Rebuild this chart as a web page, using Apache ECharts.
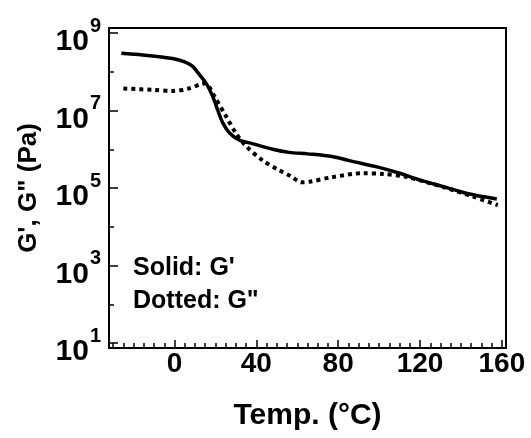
<!DOCTYPE html>
<html>
<head>
<meta charset="utf-8">
<script src="https://cdn.jsdelivr.net/npm/echarts@6/dist/echarts.min.js"></script>
<style>
    html, body { margin: 0; padding: 0; background: #fff; }
    #chart { width: 531px; height: 438px; }
</style>
</head>
<body>
<div id="chart"></div>
<script>
    // 温度 (°C) 与 G' 数据
    var gPrimeTemp = [-26, -12, -1, 5, 9, 12, 15.5, 18.7, 21.2, 23.6, 27, 32, 38, 48, 56, 65, 77, 86, 99, 110, 120, 131, 143, 157.5];
    var gPrimeVal = [3.0e8, 2.6e8, 2.2e8, 1.8e8, 1.35e8, 8.7e7, 5.0e7, 2.3e7, 1.0e7, 4.8e6, 2.6e6, 1.7e6, 1.4e6, 1.0e6, 8.3e5, 7.6e5, 6.5e5, 5.0e5, 3.5e5, 2.4e5, 1.6e5, 1.1e5, 7.2e4, 5.2e4];

    // G'' 数据
    var gDoubleTemp = [-25, -10, -1, 7, 13, 15, 17, 19.6, 25.3, 30, 35, 43, 51, 57, 62, 66, 77, 92, 102, 113, 131, 146, 158];
    var gDoubleVal = [3.7e7, 3.4e7, 3.2e7, 3.7e7, 4.8e7, 5.0e7, 4.0e7, 2.3e7, 6.9e6, 2.6e6, 1.2e6, 5.2e5, 2.9e5, 2.0e5, 1.4e5, 1.45e5, 1.9e5, 2.4e5, 2.3e5, 1.95e5, 1.07e5, 6.0e4, 3.6e4];

    // 刻度
    var xMajorTicks = [0, 40, 80, 120, 160];
    var xMinorTicks = [-30, -25, -20, -15, -10, -5, 0, 5, 10, 15, 20, 25, 30, 35, 40, 45, 50, 55, 60, 65, 70, 75, 80, 85,
        90, 95, 100, 105, 110, 115, 120, 125, 130, 135, 140, 145, 150, 155, 160];

    var FONT = "'Liberation Sans', Arial, sans-serif";

    function pairs(xs, ys) {
        var out = [];
        for (var i = 0; i < xs.length; i++) {
            out.push([xs[i], ys[i]]);
        }
        return out;
    }

    var frameBox = {left: 109, right: 25, top: 28, bottom: 90};

    var option = {
        backgroundColor: '#fff',
        animation: false,
        grid: [
            // 外框
            {left: frameBox.left, right: frameBox.right, top: frameBox.top, bottom: frameBox.bottom,
                show: true, borderColor: '#000', borderWidth: 2},
            // 绘图区 (10^1 .. 10^9)
            {left: 109, right: 25, top: 33, bottom: 95},
            // 次刻度 (x)
            {left: frameBox.left, right: frameBox.right, top: frameBox.top, bottom: frameBox.bottom}
        ],
        xAxis: [
            {
                gridIndex: 0, type: 'value', min: -32, max: 162, position: 'bottom',
                axisLine: {show: false, onZero: false},
                splitLine: {show: false},
                axisTick: {inside: true, length: 8, customValues: xMajorTicks, lineStyle: {color: '#000', width: 1.5}},
                axisLabel: {
                    customValues: xMajorTicks, margin: 2, color: '#000',
                    fontFamily: FONT, fontWeight: 'bold', fontSize: 28
                },
                name: 'Temp. (°C)', nameLocation: 'middle', nameGap: 53,
                nameTextStyle: {color: '#000', fontFamily: FONT, fontWeight: 'bold', fontSize: 30}
            },
            {
                gridIndex: 2, type: 'value', min: -32, max: 162, position: 'bottom',
                axisLine: {show: false, onZero: false},
                splitLine: {show: false},
                axisTick: {inside: true, length: 5, customValues: xMinorTicks, lineStyle: {color: '#000', width: 1.5}},
                axisLabel: {customValues: xMinorTicks, formatter: function () { return ''; }}
            },
            {
                gridIndex: 1, type: 'value', min: -32, max: 162, show: false,
                axisLine: {onZero: false}
            }
        ],
        yAxis: [
            {gridIndex: 0, type: 'value', min: 0, max: 1, show: false, axisLine: {onZero: false}},
            {
                gridIndex: 1, type: 'log', logBase: 10, min: 10, max: 1e9, interval: 2, position: 'left',
                axisLine: {show: false, onZero: false},
                splitLine: {show: false},
                axisTick: {inside: true, length: 9, lineStyle: {color: '#000', width: 1.5}},
                axisLabel: {
                    margin: 8, color: '#000',
                    formatter: function (v) {
                        return '{b|10}{s|' + Math.round(Math.log(v) / Math.LN10) + '}';
                    },
                    rich: {
                        b: {fontFamily: FONT, fontWeight: 'bold', fontSize: 30, color: '#000', verticalAlign: 'bottom'},
                        s: {fontFamily: FONT, fontWeight: 'bold', fontSize: 20, color: '#000', verticalAlign: 'bottom', padding: [7, 0, 21, 1]}
                    }
                },
                name: 'G\', G" (Pa)', nameLocation: 'middle', nameGap: 67, nameRotate: 90,
                nameTextStyle: {color: '#000', fontFamily: FONT, fontWeight: 'bold', fontSize: 26}
            },
            {
                gridIndex: 1, type: 'log', logBase: 10, min: 10, max: 1e9, interval: 1, position: 'left',
                axisLine: {show: false, onZero: false},
                splitLine: {show: false},
                axisTick: {inside: true, length: 5, lineStyle: {color: '#000', width: 1.5}},
                axisLabel: {show: false}
            },
            {gridIndex: 2, type: 'value', min: 0, max: 1, show: false, axisLine: {onZero: false}}
        ],
        graphic: [
            {type: 'text', left: 133, top: 256, style: {text: 'Solid: G\'', fill: '#000', font: 'bold 25px ' + FONT}},
            {type: 'text', left: 133, top: 289, style: {text: 'Dotted: G"', fill: '#000', font: 'bold 25px ' + FONT}}
        ],
        series: [
            {
                name: "G'", type: 'line', xAxisIndex: 2, yAxisIndex: 1,
                data: pairs(gPrimeTemp, gPrimeVal),
                smooth: 0.3, showSymbol: false,
                lineStyle: {color: '#000', width: 3.5}
            },
            {
                name: 'G"', type: 'line', xAxisIndex: 2, yAxisIndex: 1,
                data: pairs(gDoubleTemp, gDoubleVal),
                smooth: 0.3, showSymbol: false,
                lineStyle: {color: '#000', width: 4, type: [4, 4], cap: 'butt'}
            }
        ]
    };

    var myChart = echarts.init(document.getElementById('chart'), null, {renderer: 'canvas'});
    myChart.setOption(option);
</script>
</body>
</html>
